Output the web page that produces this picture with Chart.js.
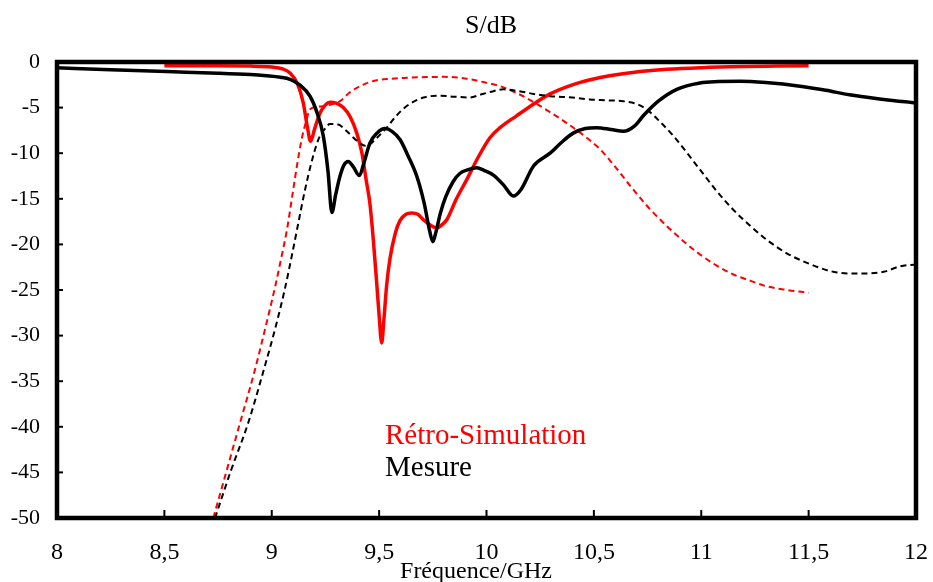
<!DOCTYPE html>
<html>
<head>
<meta charset="utf-8">
<script src="https://cdn.jsdelivr.net/npm/chart.js@4.4.1/dist/chart.umd.min.js"></script>
<style>
  html, body { margin: 0; padding: 0; background: #fff; }
  #wrap { width: 933px; height: 582px; }
</style>
</head>
<body>
<div id="wrap"><canvas id="myChart" width="933" height="582"></canvas></div>
<script>
// Rétro-simulation, transmission (trait plein rouge)
const retroS21X = [8.5, 8.7, 8.9, 9.0, 9.05, 9.085, 9.12, 9.147, 9.165, 9.181, 9.2, 9.225, 9.25, 9.271, 9.3, 9.333, 9.365, 9.396, 9.42, 9.44, 9.457, 9.473, 9.488, 9.5, 9.512, 9.523, 9.535, 9.551, 9.575, 9.597, 9.625, 9.652, 9.68, 9.706, 9.74, 9.768, 9.795, 9.815, 9.86, 9.908, 9.96, 10.016, 10.063, 10.14, 10.22, 10.296, 10.4, 10.53, 10.68, 10.84, 11.0, 11.2, 11.35, 11.5];
const retroS21Y = [-0.4, -0.42, -0.45, -0.55, -0.75, -1.2, -2.4, -4.5, -7.0, -8.7, -7.3, -5.6, -4.7, -4.4, -4.5, -5.0, -6.0, -7.8, -10.0, -13.0, -15.5, -19.5, -24.0, -27.8, -30.8, -28.0, -24.5, -21.5, -18.8, -17.4, -16.7, -16.55, -16.7, -17.3, -17.9, -18.2, -17.8, -17.3, -15.0, -12.9, -10.5, -8.3, -7.2, -5.9, -4.6, -3.5, -2.5, -1.7, -1.15, -0.8, -0.62, -0.5, -0.45, -0.4];

// Rétro-simulation, réflexion (pointillés rouges)
const retroS11X = [8.728, 8.79, 8.852, 8.92, 8.976, 9.02, 9.046, 9.07, 9.1, 9.12, 9.139, 9.16, 9.178, 9.21, 9.24, 9.27, 9.318, 9.36, 9.396, 9.44, 9.489, 9.55, 9.628, 9.72, 9.8, 9.9, 9.985, 10.063, 10.14, 10.22, 10.296, 10.374, 10.45, 10.53, 10.61, 10.684, 10.76, 10.84, 10.92, 10.994, 11.07, 11.15, 11.23, 11.305, 11.4, 11.5];
const retroS11Y = [-50, -44.8, -39.6, -33.9, -28.6, -24.2, -21.3, -18.5, -14.0, -11.0, -8.5, -6.5, -5.2, -4.9, -4.85, -4.7, -4.3, -3.4, -2.85, -2.35, -2.0, -1.85, -1.74, -1.65, -1.63, -1.8, -2.2, -2.65, -3.4, -4.4, -5.5, -6.7, -8.0, -9.6, -11.8, -14.0, -16.1, -18.0, -19.7, -21.1, -22.3, -23.3, -24.0, -24.6, -25.0, -25.3];

// Mesure, transmission (trait plein noir)
const mesureS21X = [8.0, 8.25, 8.51, 8.75, 8.9, 8.976, 9.04, 9.085, 9.13, 9.178, 9.21, 9.24, 9.262, 9.28, 9.298, 9.318, 9.336, 9.356, 9.38, 9.408, 9.43, 9.457, 9.49, 9.527, 9.56, 9.597, 9.635, 9.675, 9.71, 9.735, 9.75, 9.765, 9.785, 9.81, 9.845, 9.877, 9.915, 9.954, 9.99, 10.032, 10.08, 10.125, 10.16, 10.219, 10.296, 10.35, 10.404, 10.46, 10.513, 10.58, 10.637, 10.69, 10.73, 10.8, 10.886, 10.994, 11.08, 11.18, 11.3, 11.46, 11.58, 11.69, 11.85, 12.0];
const mesureS21Y = [-0.64, -0.85, -1.05, -1.22, -1.38, -1.52, -1.68, -1.9, -2.5, -3.75, -5.5, -8.1, -12.0, -16.5, -14.5, -12.5, -11.3, -10.9, -11.5, -12.45, -11.0, -8.9, -7.8, -7.3, -7.6, -8.5, -10.3, -12.5, -15.5, -18.5, -19.7, -18.6, -16.6, -14.8, -13.1, -12.2, -11.8, -11.6, -11.9, -12.4, -13.5, -14.7, -14.0, -11.4, -10.0, -8.8, -7.8, -7.3, -7.2, -7.4, -7.6, -7.0, -5.9, -4.3, -3.0, -2.3, -2.15, -2.1, -2.25, -2.65, -3.1, -3.6, -4.1, -4.5];

// Mesure, réflexion (pointillés noirs)
const mesureS11X = [8.736, 8.81, 8.89, 8.96, 9.023, 9.06, 9.093, 9.125, 9.155, 9.185, 9.217, 9.245, 9.271, 9.31, 9.35, 9.395, 9.44, 9.49, 9.535, 9.58, 9.63, 9.706, 9.783, 9.85, 9.923, 9.97, 10.016, 10.078, 10.15, 10.22, 10.296, 10.4, 10.48, 10.56, 10.637, 10.7, 10.746, 10.81, 10.87, 10.994, 11.07, 11.149, 11.23, 11.305, 11.4, 11.49, 11.615, 11.74, 11.85, 11.926, 12.0];
const mesureS11Y = [-50, -44.8, -39.6, -34.0, -28.6, -25.0, -21.3, -17.5, -14.0, -11.0, -8.5, -7.4, -6.8, -6.86, -7.6, -8.6, -9.2, -8.3, -7.2, -5.9, -4.8, -3.9, -3.7, -3.8, -3.9, -3.6, -3.3, -3.0, -3.2, -3.5, -3.75, -3.9, -4.1, -4.2, -4.3, -4.6, -5.2, -6.6, -8.1, -11.8, -14.1, -16.2, -18.0, -19.5, -21.0, -22.0, -23.0, -23.2, -23.0, -22.4, -22.2];

const xTicks = [8, 8.5, 9, 9.5, 10, 10.5, 11, 11.5, 12];
const yTicks = [0, -5, -10, -15, -20, -25, -30, -35, -40, -45, -50];

const legendLabels = ['Rétro-Simulation', 'Mesure'];
const legendColors = ['#ff0000', '#000000'];

function toPoints(xs, ys) {
    return xs.map(function (x, i) { return { x: x, y: ys[i] }; });
}

const serif = "'Liberation Serif', 'Times New Roman', serif";

// cadre épais, graduations intérieures, titres et légende dans le graphe
const cadre = {
    id: 'cadre',
    afterDraw: function (chart) {
        const ctx = chart.ctx;
        const a = chart.chartArea;
        const xs = chart.scales.x;
        const ys = chart.scales.y;
        ctx.save();
        ctx.strokeStyle = '#000';
        ctx.lineWidth = 2;
        xTicks.forEach(function (v) {
            const px = xs.getPixelForValue(v);
            ctx.beginPath();
            ctx.moveTo(px, a.bottom);
            ctx.lineTo(px, a.bottom - 8);
            ctx.stroke();
        });
        yTicks.forEach(function (v) {
            const py = ys.getPixelForValue(v);
            ctx.beginPath();
            ctx.moveTo(a.left, py);
            ctx.lineTo(a.left + 6, py);
            ctx.stroke();
        });
        ctx.lineWidth = 4.5;
        ctx.strokeRect(a.left, a.top, a.right - a.left, a.bottom - a.top);

        ctx.textBaseline = 'alphabetic';
        ctx.fillStyle = '#000';
        ctx.textAlign = 'center';
        ctx.font = '26px ' + serif;
        ctx.fillText('S/dB', 491, 33);
        ctx.font = '24px ' + serif;
        ctx.fillText('Fréquence/GHz', 476, 578);

        ctx.textAlign = 'left';
        ctx.font = '29px ' + serif;
        legendLabels.forEach(function (t, i) {
            ctx.fillStyle = legendColors[i];
            ctx.fillText(t, 385, 444 + i * 32);
        });
        ctx.restore();
    }
};

const ctx = document.getElementById('myChart').getContext('2d');
const chart = new Chart(ctx, {
    type: 'line',
    data: {
        datasets: [{
            label: 'Mesure S21',
            data: toPoints(mesureS21X, mesureS21Y),
            borderColor: '#000',
            borderWidth: 3.5,
            order: 0
        }, {
            label: 'Mesure S11',
            data: toPoints(mesureS11X, mesureS11Y),
            borderColor: '#000',
            borderWidth: 2,
            borderDash: [6, 4],
            order: 1
        }, {
            label: 'Rétro-Simulation S21',
            data: toPoints(retroS21X, retroS21Y),
            borderColor: '#ff0000',
            borderWidth: 3.5,
            order: 2
        }, {
            label: 'Rétro-Simulation S11',
            data: toPoints(retroS11X, retroS11Y),
            borderColor: '#ff0000',
            borderWidth: 2,
            borderDash: [6, 4],
            order: 3
        }]
    },
    options: {
        responsive: false,
        animation: false,
        elements: {
            point: { radius: 0 },
            line: { cubicInterpolationMode: 'monotone', fill: false }
        },
        layout: { padding: { top: 62, right: 17, left: 0, bottom: 0 } },
        plugins: {
            legend: { display: false },
            tooltip: { enabled: false }
        },
        scales: {
            x: {
                type: 'linear',
                min: 8,
                max: 12,
                afterBuildTicks: function (scale) {
                    scale.ticks = xTicks.map(function (v) { return { value: v }; });
                },
                afterFit: function (scale) {
                    scale.height = 64;
                    scale.paddingLeft = 0;
                    scale.paddingRight = 0;
                },
                grid: { display: false },
                border: { display: false },
                ticks: {
                    color: '#000',
                    maxRotation: 0,
                    padding: 12,
                    font: { family: serif, size: 24 },
                    callback: function (v) { return String(v).replace('.', ','); }
                }
            },
            y: {
                min: -50,
                max: 0,
                afterBuildTicks: function (scale) {
                    scale.ticks = yTicks.map(function (v) { return { value: v }; });
                },
                afterFit: function (scale) {
                    scale.width = 57;
                    scale.paddingTop = 0;
                    scale.paddingBottom = 0;
                },
                grid: { display: false },
                border: { display: false },
                ticks: {
                    color: '#000',
                    padding: 9,
                    font: { family: serif, size: 22 }
                }
            }
        }
    },
    plugins: [cadre]
});
</script>
</body>
</html>
